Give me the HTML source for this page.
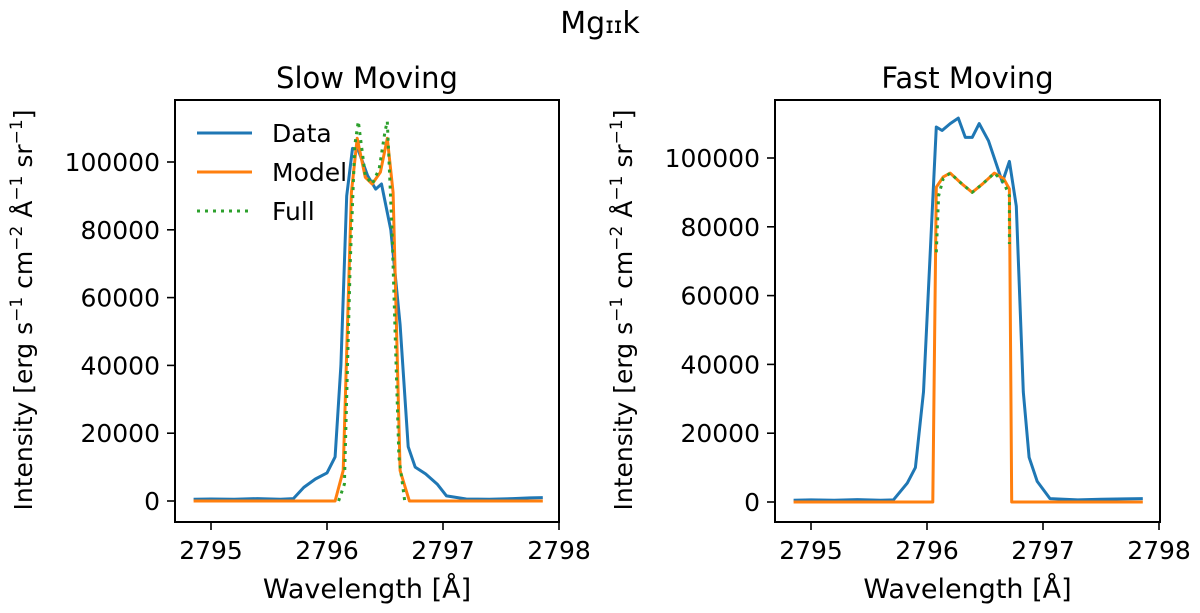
<!DOCTYPE html>
<html><head><meta charset="utf-8"><style>
html,body{margin:0;padding:0;background:#fff}
svg{display:block;font-family:"DejaVu Sans","Liberation Sans",sans-serif}
</style></head><body>
<svg id="fig" width="1200" height="613" viewBox="0 0 1200 613">
<text x="600" y="33" font-size="30" text-anchor="middle">Mg<tspan font-size="23">ɪɪ</tspan>k</text>
</svg>
<script>
const xTicks=[2795,2796,2797,2798];
const yTicks=[0,20000,40000,60000,80000,100000];
// Slow moving panel
const slowWave=[2794.85,2795.0,2795.2,2795.4,2795.6,2795.71,2795.8,2795.9,2796.0,2796.07,2796.12,2796.17,2796.22,2796.27,2796.35,2796.42,2796.47,2796.55,2796.63,2796.7,2796.76,2796.85,2796.95,2797.03,2797.2,2797.4,2797.6,2797.75,2797.86];
const slowData=[500,600,500,700,500,700,4000,6500,8300,13000,40000,90000,104000,103500,96000,92000,93500,80000,52000,16000,10000,8000,5000,1500,600,500,700,900,1000];
const slowModelWave=[2794.85,2796.07,2796.14,2796.21,2796.26,2796.33,2796.39,2796.46,2796.52,2796.57,2796.63,2796.71,2797.86];
const slowModel=[0,0,9000,91000,107000,95500,93500,97000,107000,91000,9000,0,0];
const slowFullWave=[2796.1,2796.15,2796.2,2796.24,2796.27,2796.33,2796.39,2796.45,2796.5,2796.52,2796.56,2796.62,2796.67];
const slowFull=[0,5000,70000,105000,112000,96000,93500,98000,109000,112000,80000,13000,0];
// Fast moving panel
const fastWave=[2794.85,2795.0,2795.2,2795.4,2795.6,2795.71,2795.83,2795.9,2795.97,2796.08,2796.13,2796.2,2796.27,2796.33,2796.39,2796.45,2796.53,2796.65,2796.71,2796.77,2796.83,2796.88,2796.95,2797.06,2797.3,2797.5,2797.7,2797.86];
const fastData=[500,600,500,700,500,600,5500,10000,32000,109000,108000,110000,111600,106000,106000,110000,105000,93000,99000,86000,32000,13000,6000,1000,600,800,900,1000];
const fastModelWave=[2794.85,2796.05,2796.08,2796.14,2796.2,2796.3,2796.39,2796.48,2796.58,2796.66,2796.71,2796.73,2797.86];
const fastModel=[0,0,91500,94500,95600,92500,90000,92500,95600,94000,91000,0,0];
const fastFullWave=[2796.08,2796.1,2796.14,2796.2,2796.3,2796.39,2796.48,2796.58,2796.66,2796.71,2796.71];
const fastFull=[72600,89000,94000,95600,92500,90000,92500,95600,93000,89000,75000];

const NS="http://www.w3.org/2000/svg";
const svg=document.getElementById('fig');
function mk(tag,attrs,parent){const e=document.createElementNS(NS,tag);for(const k in attrs)e.setAttribute(k,attrs[k]);(parent||svg).appendChild(e);return e;}

function panel(p){
  const g=mk('g',{});
  
  
  const sx=w=>p.x0+(w-2795)*p.pxPerA;
  const sy=v=>p.y0-v*p.pxPerUnit;
  const lines=[[p.dW,p.d,'#1f77b4','','data-line'],[p.mW,p.m,'#ff7f0e','','model-line'],[p.fW,p.f,'#2ca02c','3,5','full-line']];
  for(const [ws,vs,c,dash,nm] of lines){
    const pts=ws.map((w,i)=>sx(w).toFixed(1)+','+sy(vs[i]).toFixed(1)).join(' ');
    const pl=mk('polyline',{points:pts,fill:'none',stroke:c,'stroke-width':3,'stroke-linejoin':'round'},g);
    if(dash)pl.setAttribute('stroke-dasharray',dash);
    
    
  }
  const fr=mk('rect',{x:p.L,y:p.T,width:p.R-p.L,height:p.B-p.T,fill:'none',stroke:'#000','stroke-width':2},g);
  
  
  for(const t of xTicks){
    const x=sx(t);
    mk('line',{x1:x,x2:x,y1:p.B,y2:p.B+8,stroke:'#000','stroke-width':1.6},g);
    const tx=mk('text',{x:x,y:p.B+37,'font-size':25,'text-anchor':'middle'},g);
    tx.textContent=t;
    
    
  }
  for(const t of yTicks){
    const y=sy(t);
    mk('line',{x1:p.L-8,x2:p.L,y1:y,y2:y,stroke:'#000','stroke-width':1.6},g);
    const tx=mk('text',{x:p.L-15,y:y+9,'font-size':25,'text-anchor':'end'},g);
    tx.textContent=t;
    
    
  }
  const ti=mk('text',{x:(p.L+p.R)/2,y:p.T-12,'font-size':29,'text-anchor':'middle'},g);
  ti.textContent=p.title;
  
  
  const xl=mk('text',{x:(p.L+p.R)/2,y:598,'font-size':27,'text-anchor':'middle'},g);
  xl.textContent='Wavelength [Å]';
  
  
  const yl=mk('text',{x:0,y:0,'font-size':25,'text-anchor':'middle',transform:`translate(${p.yl},310) rotate(-90)`},g);
  yl.innerHTML='Intensity [erg s<tspan dy="-10" font-size="17">−1</tspan><tspan dy="10"> cm</tspan><tspan dy="-10" font-size="17">−2</tspan><tspan dy="10"> Å</tspan><tspan dy="-10" font-size="17">−1</tspan><tspan dy="10"> sr</tspan><tspan dy="-10" font-size="17">−1</tspan><tspan dy="10">]</tspan>';
  
  
  return g;
}
panel({name:'slow-moving-panel',title:'Slow Moving',L:175,R:559,T:100,B:522,x0:211,pxPerA:116,y0:501,pxPerUnit:339/100000,dW:slowWave,d:slowData,mW:slowModelWave,m:slowModel,fW:slowFullWave,f:slowFull,yl:32});
panel({name:'fast-moving-panel',title:'Fast Moving',L:775,R:1160,T:100,B:522,x0:811,pxPerA:116,y0:502,pxPerUnit:344/100000,dW:fastWave,d:fastData,mW:fastModelWave,m:fastModel,fW:fastFullWave,f:fastFull,yl:632});

// legend
const lg=mk('g',{});


const items=[['Data','#1f77b4','',133],['Model','#ff7f0e','',172],['Full','#2ca02c','3,5',211]];
for(const [lab,c,dash,y] of items){
  const ln=mk('line',{x1:197,x2:252,y1:y,y2:y,stroke:c,'stroke-width':3},lg);
  if(dash)ln.setAttribute('stroke-dasharray',dash);
  const t=mk('text',{x:272,y:y+9,'font-size':25},lg);
  t.textContent=lab;
  
  
}
</script>
</body></html>
